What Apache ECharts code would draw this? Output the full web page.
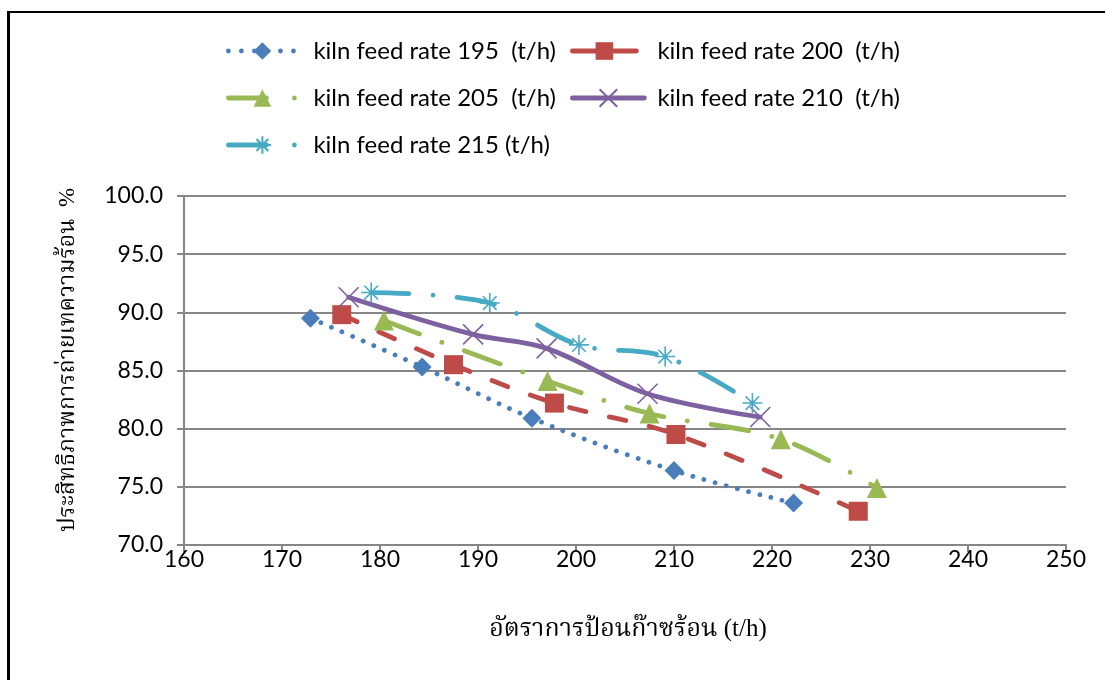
<!DOCTYPE html>
<html>
<head>
<meta charset="utf-8">
<script src="https://cdn.jsdelivr.net/npm/echarts@6/dist/echarts.min.js"></script>
<style>
  html, body { margin: 0; padding: 0; background: #ffffff; }
  #chart { width: 1105px; height: 680px; }
</style>
</head>
<body>
<div id="chart"></div>
<script>
// Kiln feed rate vs. heat transfer efficiency
const seriesNames = [
  'kiln feed rate 195  (t/h)',
  'kiln feed rate 200  (t/h)',
  'kiln feed rate 205  (t/h)',
  'kiln feed rate 210  (t/h)',
  'kiln feed rate 215 (t/h)'
];

// hot gas feed rate (t/h) for each series
const x195 = [172.9, 184.3, 195.5, 210.0, 222.2];
const x200 = [176.1, 187.5, 197.8, 210.2, 228.8];
const x205 = [180.4, 197.1, 207.5, 220.9, 230.7];
const x210 = [176.8, 189.5, 197.0, 207.3, 218.8];
const x215 = [179.1, 191.2, 200.3, 209.1, 218.0];

// heat transfer efficiency (%)
const y195 = [89.5, 85.3, 80.9, 76.4, 73.6];
const y200 = [89.8, 85.5, 82.2, 79.5, 72.9];
const y205 = [89.3, 84.1, 81.3, 79.1, 74.9];
const y210 = [91.3, 88.1, 86.9, 83.0, 81.0];
const y215 = [91.7, 90.8, 87.2, 86.2, 82.2];

const xTicks = [160, 170, 180, 190, 200, 210, 220, 230, 240, 250];
const yTicks = [70, 75, 80, 85, 90, 95, 100];

const xTitle = 'อัตราการป้อนก๊าซร้อน (t/h)';
const yTitle = 'ประสิทธิภาพการถ่ายเทความร้อน  %';

const pairs = (xs, ys) => xs.map((x, i) => [x, ys[i]]);

const latin = 'Lato, "Open Sans", "Liberation Sans", sans-serif';
const thai = '"Liberation Serif", "Noto Serif Thai", "Norasi", "Tlwg Typo", "Loma", "Garuda", "Noto Sans Thai", serif';

const crossPath = 'path://M0,0L10,10M10,0L0,10';
const starPath = 'path://M5,0L5,10M0,5L10,5M1.6,1.6L8.4,8.4M8.4,1.6L1.6,8.4';

const styles = [
  { color: '#4A7EBB', dash: [0.01, 11.5], symbol: 'diamond', size: 19, stroke: 0 },
  { color: '#BE4B48', dash: [17, 24], symbol: 'rect', size: 19, stroke: 0 },
  { color: '#98B954', dash: [38, 24, 0.01, 24], symbol: 'triangle', size: 20, stroke: 0 },
  { color: '#7D60A0', dash: 'solid', symbol: crossPath, size: 20, stroke: 1.6 },
  { color: '#46AAC5', dash: [38, 24, 0.01, 24], symbol: starPath, size: 20, stroke: 1.6 }
];

const seriesData = [
  pairs(x195, y195),
  pairs(x200, y200),
  pairs(x205, y205),
  pairs(x210, y210),
  pairs(x215, y215)
];

const series = seriesNames.map((name, i) => {
  const s = styles[i];
  return {
    name: name,
    type: 'line',
    data: seriesData[i],
    smooth: 0.35,
    symbol: s.symbol,
    symbolSize: s.size,
    showAllSymbol: true,
    lineStyle: { color: s.color, width: 4.8, type: s.dash, cap: 'round' },
    itemStyle: {
      color: s.color,
      borderColor: s.color,
      borderWidth: s.stroke
    },
    emphasis: { disabled: true },
    z: 2 + i
  };
});

// legend positions: two columns, three rows
const legendPos = [
  { left: 226, top: 39, width: 68 },
  { left: 570, top: 39, width: 64 },
  { left: 226, top: 86, width: 68 },
  { left: 570, top: 86, width: 72 },
  { left: 226, top: 133, width: 68 }
];

const legendDash = [
  [0.01, 13],
  'solid',
  [38, 28, 0.01, 100],
  'solid',
  [38, 28, 0.01, 100]
];

const legends = seriesNames.map((name, i) => ({
  data: [name],
  left: legendPos[i].left,
  top: legendPos[i].top,
  padding: 0,
  itemWidth: legendPos[i].width,
  itemHeight: 22,
  selectedMode: false,
  lineStyle: { width: 4.8, type: legendDash[i], cap: 'round' },
  textStyle: {
    fontFamily: latin,
    fontSize: 24,
    color: '#000000',
    padding: [0, 0, 0, i % 2 === 1 ? 80 - legendPos[i].width : 12]
  }
}));

const chart = echarts.init(document.getElementById('chart'), null, { renderer: 'canvas' });

chart.setOption({
  backgroundColor: '#ffffff',
  animation: false,
  legend: legends,
  grid: { left: 184, right: 39, top: 196, bottom: 135, containLabel: false },
  xAxis: {
    type: 'value',
    min: xTicks[0],
    max: xTicks[xTicks.length - 1],
    interval: 10,
    axisLine: { show: true, onZero: false, lineStyle: { color: '#868686', width: 2 } },
    axisTick: { show: true, length: 7, lineStyle: { color: '#868686', width: 2 } },
    splitLine: { show: false },
    axisLabel: {
      fontFamily: latin, fontSize: 23, color: '#000000', margin: 3
    }
  },
  yAxis: {
    type: 'value',
    min: yTicks[0],
    max: yTicks[yTicks.length - 1],
    interval: 5,
    axisLine: { show: true, lineStyle: { color: '#868686', width: 2 } },
    axisTick: { show: true, length: 7, lineStyle: { color: '#868686', width: 2 } },
    splitLine: { show: true, lineStyle: { color: '#868686', width: 2 } },
    axisLabel: {
      fontFamily: latin, fontSize: 23, color: '#000000', margin: 21,
      formatter: v => v.toFixed(1)
    }
  },
  series: series,
  graphic: [
    {
      type: 'text',
      x: 628, y: 629,
      style: {
        text: xTitle, fontFamily: thai, fontSize: 25, fill: '#000000',
        align: 'center', verticalAlign: 'middle'
      }
    },
    {
      type: 'text',
      x: 68, y: 360,
      rotation: Math.PI / 2,
      style: {
        text: yTitle, fontFamily: thai, fontSize: 23, fill: '#000000',
        align: 'center', verticalAlign: 'middle'
      }
    },
    // frame around the chart area
    {
      type: 'line',
      shape: { x1: 8.5, y1: 12, x2: 1105, y2: 12 },
      style: { stroke: '#000000', lineWidth: 2 }
    },
    {
      type: 'line',
      shape: { x1: 8.5, y1: 11, x2: 8.5, y2: 680 },
      style: { stroke: '#000000', lineWidth: 3 }
    }
  ]
});
</script>
</body>
</html>
